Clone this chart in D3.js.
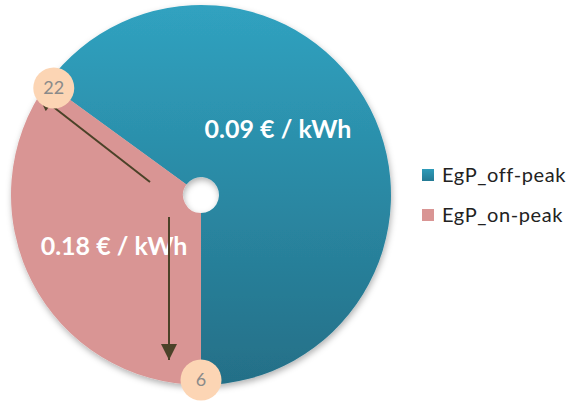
<!DOCTYPE html>
<html><head><meta charset="utf-8">
<script src="https://cdn.jsdelivr.net/npm/d3@7"></script>
<style>body{margin:0;background:#fff}svg{display:block}</style>
</head><body>
<svg id="c" width="570" height="401"></svg>
<script>
const categories = ["EgP_off-peak", "EgP_on-peak"];
const values = [65, 35];
const priceLabels = ["0.09 € / kWh", "0.18 € / kWh"];
const hourLabels = ["22", "6"];

const svg = d3.select("#c");
const cx = 201, cy = 195, R = 190, r0 = 18;

const defs = svg.append("defs");
const g1 = defs.append("linearGradient").attr("id","gTeal").attr("x1",0).attr("y1",0).attr("x2",0).attr("y2",1);
g1.append("stop").attr("offset","0%").attr("stop-color","#30a2c0");
g1.append("stop").attr("offset","100%").attr("stop-color","#246f87");
const g2 = defs.append("linearGradient").attr("id","gLeg").attr("x1",0).attr("y1",0).attr("x2",0).attr("y2",1);
g2.append("stop").attr("offset","0%").attr("stop-color","#2e9bb9");
g2.append("stop").attr("offset","100%").attr("stop-color","#247a94");
const f = defs.append("filter").attr("id","sh").attr("x","-10%").attr("y","-10%").attr("width","120%").attr("height","120%");
f.append("feDropShadow").attr("dx",1).attr("dy",3).attr("stdDeviation",3).attr("flood-color","#000").attr("flood-opacity",0.3);
const mk2 = defs.append("marker").attr("id","ah2").attr("viewBox","0 0 10 10").attr("refX",10).attr("refY",5)
  .attr("markerWidth",17).attr("markerHeight",16).attr("markerUnits","userSpaceOnUse").attr("orient","auto");
mk2.append("path").attr("d","M0,0 L10,5 L0,10 Z").attr("fill","#4b4228");

const color = d3.scaleOrdinal().domain(categories).range(["url(#gTeal)", "#d99594"]);
const legColor = d3.scaleOrdinal().domain(categories).range(["url(#gLeg)", "#d99594"]);

const start = -54 * Math.PI / 180;
const pie = d3.pie().sort(null).startAngle(start).endAngle(start + 2*Math.PI);
const arcs = pie(values).map((a,i)=>Object.assign(a,{cat:categories[i]}));
const arc = d3.arc().innerRadius(r0).outerRadius(R);

const g = svg.append("g").attr("transform",`translate(${cx},${cy})`);
g.append("g").attr("filter","url(#sh)").selectAll("path").data(arcs).join("path")
  .attr("d", arc).attr("fill", d=>color(d.cat));

// price labels
const labelPos = [[77,-57],[-87,60]];
g.selectAll("text.price").data(arcs).join("text").attr("class","price")
  .attr("x",(d,i)=>labelPos[i][0]).attr("y",(d,i)=>labelPos[i][1])
  .attr("text-anchor","middle").attr("fill","#fff")
  .style("font-family","Lato, sans-serif").style("font-weight","bold").style("font-size","25px")
  .text((d,i)=>priceLabels[i]);

// arrows
g.append("line").attr("x1",-51).attr("y1",-13).attr("x2",-163).attr("y2",-100)
  .attr("stroke","#4b4228").attr("stroke-width",2).attr("marker-end","url(#ah2)");
g.append("line").attr("x1",-32).attr("y1",22).attr("x2",-32).attr("y2",165)
  .attr("stroke","#4b4228").attr("stroke-width",2).attr("marker-end","url(#ah2)");

// hour circles at the boundaries
const bAngles = [arcs[1].endAngle, arcs[1].startAngle];
const hourR = [R - 8, R - 5];
bAngles.forEach((a,i)=>{
  const rr = hourR[i];
  const x = Math.sin(a)*rr, y = -Math.cos(a)*rr;
  g.append("circle").attr("cx",x).attr("cy",y).attr("r",20.5).attr("fill","#fcd5b4");
  g.append("text").attr("x",x).attr("y",y+6).attr("text-anchor","middle").attr("fill","#8a8a8a")
    .style("font-family","Lato, sans-serif").style("font-size","18px").text(hourLabels[i]);
});

// legend
const leg = svg.append("g").attr("transform","translate(422,169)");
const li = leg.selectAll("g").data(categories).join("g").attr("transform",(d,i)=>`translate(0,${i*40})`);
li.append("rect").attr("width",12).attr("height",12).attr("fill",d=>legColor(d));
li.append("text").attr("x",20).attr("y",13).attr("fill","#222")
  .style("font-family","Lato, sans-serif").style("font-size","20px").style("letter-spacing","0.6px").text(d=>d);
</script>
</body></html>
